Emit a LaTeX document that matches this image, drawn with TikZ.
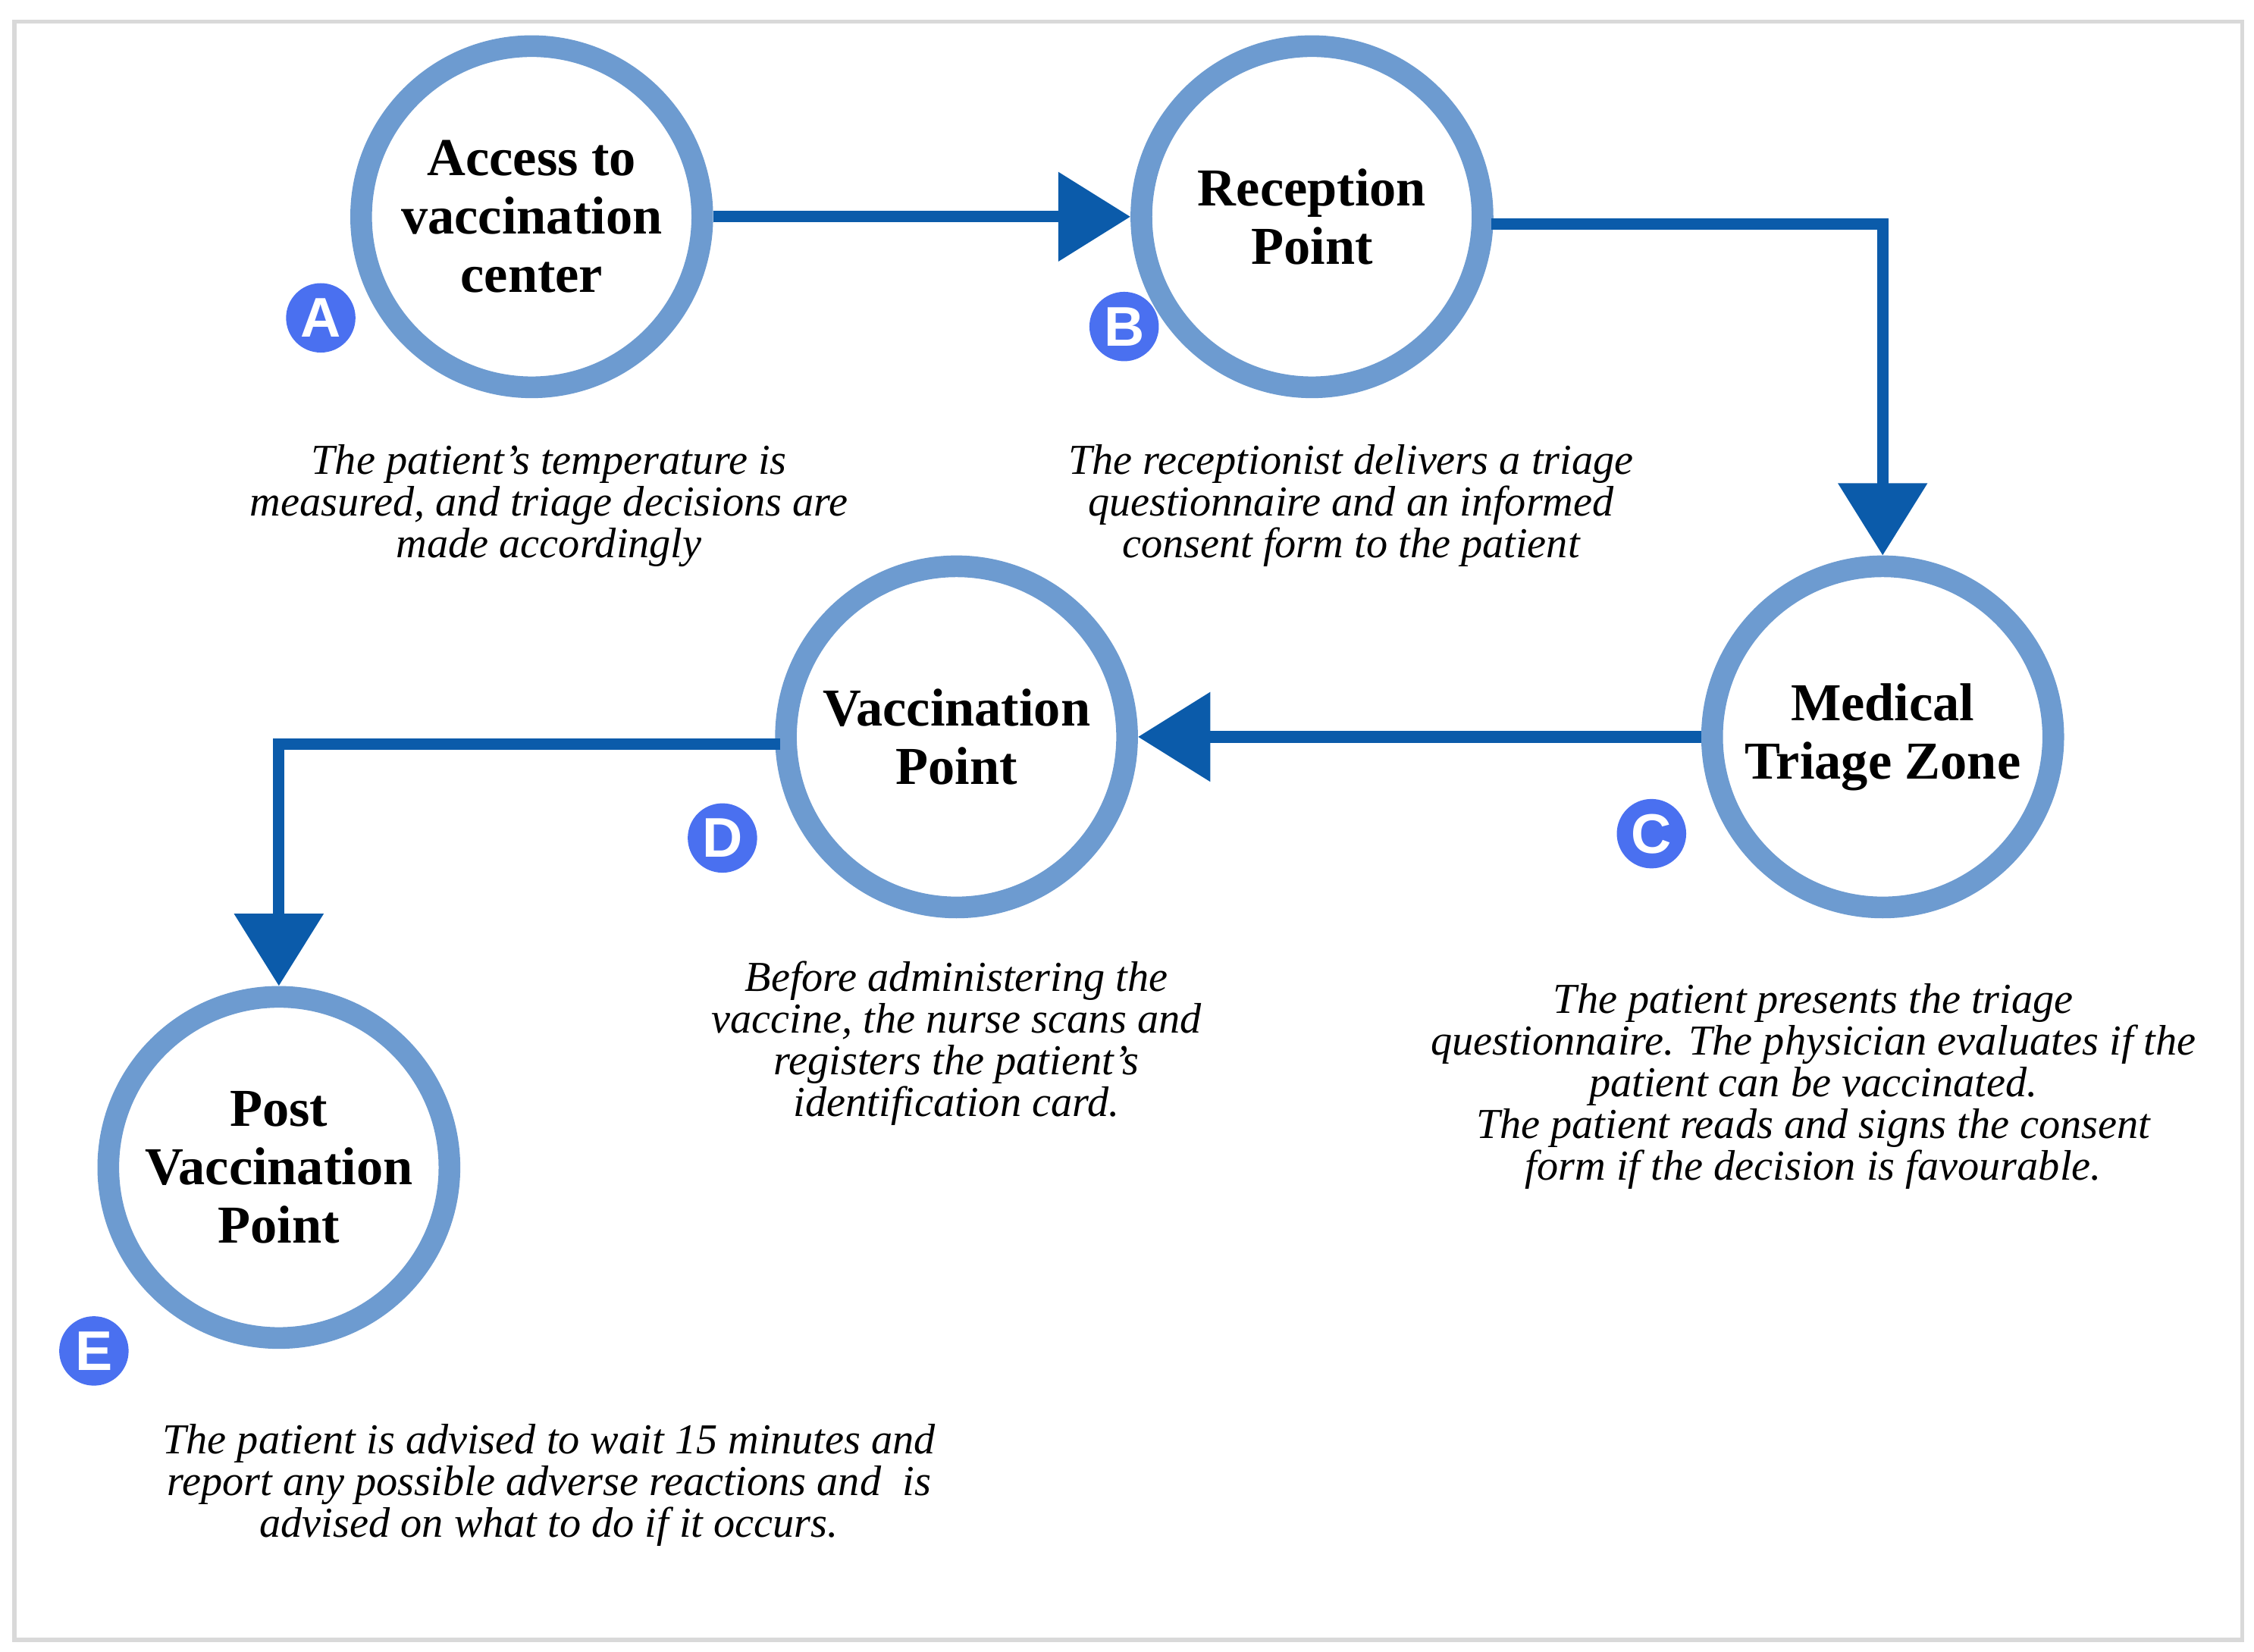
\documentclass[tikz,border=0pt]{standalone}
\usepackage{fontspec}
\setmainfont{Liberation Serif}
\newfontfamily\badgefont{Liberation Sans}
\usetikzlibrary{arrows.meta}
\definecolor{ring}{HTML}{6D9BD0}
\definecolor{arr}{HTML}{0B5BAA}
\definecolor{badge}{HTML}{4A70F0}
\begin{document}
\begin{tikzpicture}[x=0.01cm,y=-0.01cm,
  stage/.style={circle,draw=ring,line width=0.15cm,minimum size=2.36cm,inner sep=0pt,align=center,font=\fontsize{10.5}{11.5}\selectfont\bfseries},
  bdg/.style={circle,fill=badge,minimum size=0.48cm,inner sep=0pt,text=white,font=\badgefont\fontsize{11}{11}\selectfont\bfseries},
  desc/.style={align=center,font=\fontsize{8.4}{8.2}\selectfont\itshape,inner sep=0pt},
  flow/.style={draw=arr,line width=0.08cm,-{Triangle[length=0.5cm,width=0.6cm]}}]
\useasboundingbox (0,0) rectangle (1560,1143);
\draw[gray!30,line width=0.8pt] (10,15) rectangle (1552,1135);
\node[stage] (A) at (368,150) {Access to\\vaccination\\center};
\node[stage] (B) at (908,150) {Reception\\Point};
\node[stage] (C) at (1303,510) {Medical\\Triage Zone};
\node[stage] (D) at (662,510) {Vaccination\\Point};
\node[stage] (E) at (193,808) {Post\\Vaccination\\Point};
\node[bdg] (bA) at (222,220) {A};
\node[bdg] (bB) at (778,226) {B};
\node[bdg] (bC) at (1143,577) {C};
\node[bdg] (bD) at (500,580) {D};
\node[bdg] (bE) at (65,935) {E};
\node[desc] (tA) at (380,350) {The patient's temperature is\\measured, and triage decisions are\\made accordingly};
\node[desc] (tB) at (935,350) {The receptionist delivers a triage\\questionnaire and an informed\\consent form to the patient};
\node[desc] (tC) at (1255,752) {The patient presents the triage\\questionnaire. The physician evaluates if the\\patient can be vaccinated.\\The patient reads and signs the consent\\form if the decision is favourable.};
\node[desc] (tD) at (662,722) {Before administering the\\vaccine, the nurse scans and\\registers the patient's\\identification card.};
\node[desc] (tE) at (380,1028) {The patient is advised to wait 15 minutes and\\report any possible adverse reactions and\ \ is\\advised on what to do if it occurs.};
\coordinate (b0) at (1032,155);
\coordinate (b1) at (1303,155);
\coordinate (d0) at (540,515);
\coordinate (d1) at (193,515);
\draw[flow] (A.east) -- (B.west);
\draw[flow] (b0) -- (b1) -- (C.north);
\draw[flow] (C.west) -- (D.east);
\draw[flow] (d0) -- (d1) -- (E.north);
\end{tikzpicture}
\end{document}
